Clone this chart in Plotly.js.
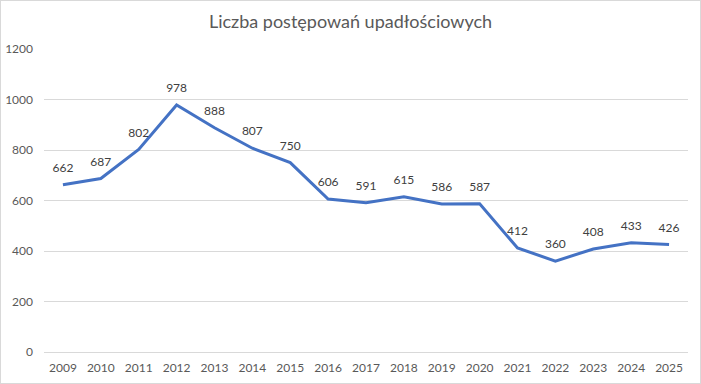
<!DOCTYPE html>
<html><head><meta charset="utf-8">
<script src="https://cdn.plot.ly/plotly-3.0.1.min.js"></script>
<style>
html,body{margin:0;padding:0;background:#fff;}
#chart{width:699px;height:382px;border:1px solid #d9d9d9;}
</style>
</head><body>
<div id="chart"></div>
<script>
const years = ['2009','2010','2011','2012','2013','2014','2015','2016','2017','2018','2019','2020','2021','2022','2023','2024','2025'];
const values = [662,687,802,978,888,807,750,606,591,615,586,587,412,360,408,433,426];
const yTicks = [0,200,400,600,800,1000,1200];
const titleText = 'Liczba postępowań upadłościowych';

const FONT = 'Lato, "Open Sans", sans-serif';
const trace = {
  x: years, y: values, type: 'scatter', mode: 'lines+markers+text',
  text: values.map(String), textposition: 'top center',
  textfont: {family: FONT, size: 12, color: '#404040'},
  marker: {size: 14, color: 'rgba(0,0,0,0)', line: {width: 0}},
  cliponaxis: false,
  line: {color: '#4472C4', width: 3}, hoverinfo: 'x+y'
};
const layout = {
  width: 699, height: 382,
  margin: {l: 43, r: 12, t: 48, b: 31},
  paper_bgcolor: '#fff', plot_bgcolor: '#fff',
  title: {text: titleText, x: 0.5, xanchor: 'center', y: 0.945, yanchor: 'middle',
          font: {family: FONT, size: 18, color: '#595959'}},
  showlegend: false,
  xaxis: {type: 'category', range: [-0.5, 16.5], showgrid: false, zeroline: false,
          showline: false, ticks: '', ticklabelstandoff: 7,
          tickfont: {family: FONT, size: 12, color: '#595959'}},
  yaxis: {range: [0, 1200], tickvals: yTicks, ticktext: yTicks.map(String),
          showgrid: true, gridcolor: '#d9d9d9', gridwidth: 1, zeroline: true, zerolinecolor: '#d9d9d9',
          showline: false, ticks: '', ticklabelstandoff: 10,
          tickfont: {family: FONT, size: 12, color: '#595959'}}
};
Plotly.newPlot('chart', [trace], layout, {displayModeBar: false, staticPlot: true});
</script>
</body></html>
